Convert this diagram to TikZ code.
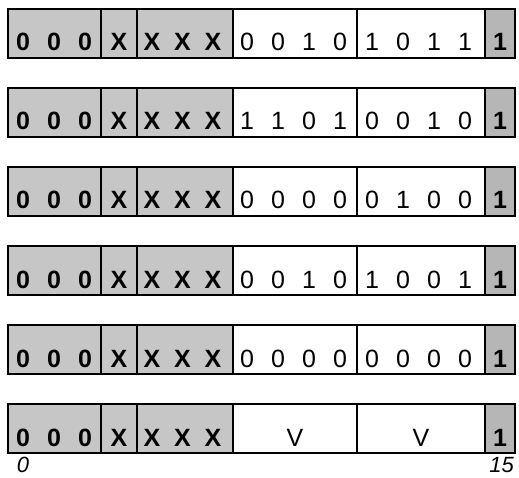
\documentclass[tikz,border=0pt]{standalone}
\usepackage{fontspec}
\setmainfont{Liberation Sans}
\usetikzlibrary{positioning}
\definecolor{regshade}{HTML}{C6C6C6}
\definecolor{regshadedk}{HTML}{B6B6B6}

\begin{document}
\begin{tikzpicture}[x=1pt,y=-1pt,
  fieldbox/.style={draw, line width=2.6pt},
  bitbold/.style={font=\fontsize{25}{25}\selectfont\bfseries, anchor=base, inner sep=0pt},
  bitplain/.style={font=\fontsize{25}{25}\selectfont, anchor=base, inner sep=0pt},
  bitindex/.style={font=\fontsize{22}{22}\selectfont\itshape, anchor=base, inner sep=0pt}]
\useasboundingbox (0,0) rectangle (519,478);
\def\rh{49} % row height
% six register rows, fixed fields first
\foreach \r in {0,...,5}{
  \pgfmathsetmacro\yt{9+79*\r}
  \pgfmathsetmacro\yb{\yt+\rh}
  \pgfmathsetmacro\yl{\yb-7}
  \filldraw[fieldbox, fill=regshade] (8,\yt) rectangle (101,\yb);
  \filldraw[fieldbox, fill=regshade] (101,\yt) rectangle (137,\yb);
  \filldraw[fieldbox, fill=regshade] (137,\yt) rectangle (233,\yb);
  \draw[fieldbox] (233,\yt) rectangle (357,\yb);
  \draw[fieldbox] (357,\yt) rectangle (485,\yb);
  \filldraw[fieldbox, fill=regshadedk] (485,\yt) rectangle (515,\yb);
  \foreach \i in {0,1,2}
    \node[bitbold] (z\r-\i) at (23+31*\i,\yl) {0};
  \node[bitbold] (x\r) at (119,\yl) {X};
  \foreach \i in {0,1,2}
    \node[bitbold] (x\r-\i) at (152+30.5*\i,\yl) {X};
  \node[bitbold] (one\r) at (500,\yl) {1};
}
% variable bytes
\foreach \r/\a/\b/\c/\e/\f/\g/\h/\k in {0/0/0/1/0/1/0/1/1,
                                        1/1/1/0/1/0/0/1/0,
                                        2/0/0/0/0/0/1/0/0,
                                        3/0/0/1/0/1/0/0/1,
                                        4/0/0/0/0/0/0/0/0}{
  \pgfmathsetmacro\yl{9+79*\r+\rh-7}
  \foreach \v [count=\i from 0] in {\a,\b,\c,\e}
    \node[bitplain] (hi\r-\i) at (247+31*\i,\yl) {\v};
  \foreach \v [count=\i from 0] in {\f,\g,\h,\k}
    \node[bitplain] (lo\r-\i) at (372+31*\i,\yl) {\v};
}
\node[bitplain] (vhi) at (295,9+79*5+\rh-7) {V};
\node[bitplain] (vlo) at (421,9+79*5+\rh-7) {V};
% bit numbers
\node[bitindex] (bit0) at (23,472) {0};
\node[bitindex, anchor=base east] (bit15) at (514,472) {15};
\end{tikzpicture}
\end{document}
